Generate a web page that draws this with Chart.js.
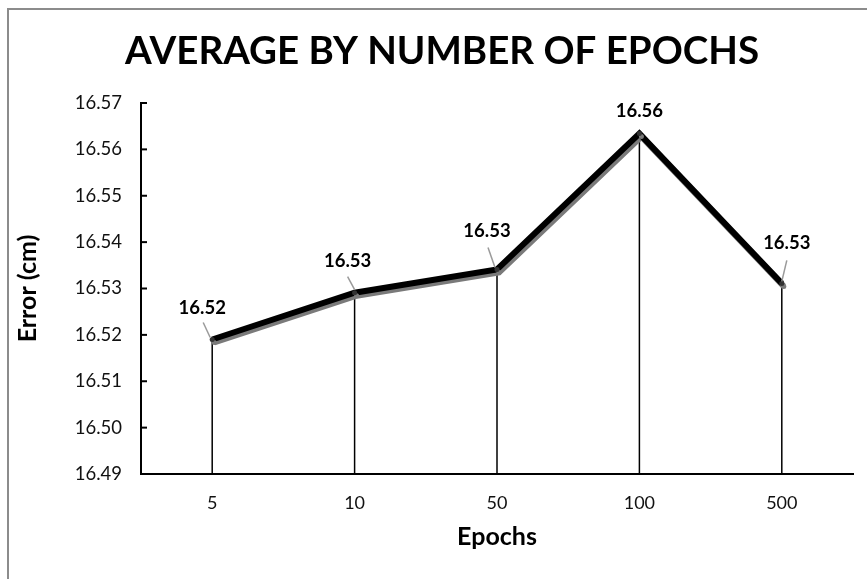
<!DOCTYPE html>
<html>
<head>
<meta charset="utf-8">
<title>Average by number of epochs</title>
<script src="https://cdn.jsdelivr.net/npm/chart.js@4.4.0/dist/chart.umd.min.js"></script>
<style>
  html, body { margin: 0; padding: 0; background: #fff; overflow: hidden; }
  /* outer chart frame, only top and left edges fall inside the window */
  #frame {
    position: absolute; left: 7px; top: 8px; width: 920px; height: 620px;
    border-left: 2px solid #8c8c8c; border-top: 2px solid #8c8c8c;
  }
  #wrap { position: relative; width: 867px; height: 579px; }
</style>
</head>
<body>
<div id="frame"></div>
<div id="wrap"><canvas id="graficoEpocas"></canvas></div>
<script>
const epochs = ["5", "10", "50", "100", "500"];
const avgError = [16.519, 16.5291, 16.5341, 16.5634, 16.5311];
const yTicks = [16.49, 16.50, 16.51, 16.52, 16.53, 16.54, 16.55, 16.56, 16.57];

const chartTitle = "AVERAGE BY NUMBER OF EPOCHS";

// where each value label sits relative to its point, plus the leader line
const labelPos = [
  { dx: -10, dy: -31, lead: [-9, -17, -2, -2] },
  { dx: -7,  dy: -32, lead: [-7, -16, 0, -3] },
  { dx: -10, dy: -38, lead: [-9, -22, -2, -2] },
  { dx: 0,   dy: -23, lead: null },
  { dx: 5,   dy: -40, lead: [5, -23, 0, -2] }
];

Chart.defaults.font.family = "Lato, 'Open Sans', sans-serif";
Chart.defaults.color = "#111";

const topTitle = {
  id: "topTitle",
  afterDraw(chart, args, opts) {
    const ctx = chart.ctx;
    ctx.save();
    ctx.font = "bold 38.5px Lato, 'Open Sans', sans-serif";
    ctx.fillStyle = "#000";
    ctx.textAlign = "center";
    ctx.textBaseline = "middle";
    ctx.fillText(opts.text, opts.x, opts.y);
    ctx.restore();
  }
};

// vertical lines from every point down to the category axis
const dropLines = {
  id: "dropLines",
  beforeDatasetsDraw(chart) {
    const ctx = chart.ctx;
    const bottom = chart.scales.y.getPixelForValue(yTicks[0]);
    ctx.save();
    ctx.strokeStyle = "#000";
    ctx.lineWidth = 1.5;
    chart.getDatasetMeta(0).data.forEach(pt => {
      ctx.beginPath();
      ctx.moveTo(pt.x, pt.y);
      ctx.lineTo(pt.x, bottom);
      ctx.stroke();
    });
    ctx.restore();
  }
};

// grey offset shadow under the thick line
const lineShadow = {
  id: "lineShadow",
  beforeDatasetDraw(chart) {
    const ctx = chart.ctx;
    ctx.save();
    ctx.shadowColor = "#7a7a7a";
    ctx.shadowOffsetX = 2;
    ctx.shadowOffsetY = 3;
    ctx.shadowBlur = 0;
  },
  afterDatasetDraw(chart) {
    chart.ctx.restore();
  }
};

// y tick marks point into the plot area
const innerTicks = {
  id: "innerTicks",
  afterDraw(chart) {
    const ctx = chart.ctx;
    const y = chart.scales.y;
    const left = chart.chartArea.left;
    ctx.save();
    ctx.strokeStyle = "#000";
    ctx.lineWidth = 2;
    y.ticks.forEach(t => {
      const py = y.getPixelForValue(t.value);
      ctx.beginPath();
      ctx.moveTo(left, py);
      ctx.lineTo(left + 6, py);
      ctx.stroke();
    });
    ctx.restore();
  }
};

const valueLabels = {
  id: "valueLabels",
  afterDatasetsDraw(chart) {
    const ctx = chart.ctx;
    const meta = chart.getDatasetMeta(0);
    ctx.save();
    meta.data.forEach((pt, i) => {
      const p = labelPos[i];
      if (p.lead) {
        ctx.strokeStyle = "#9a9a9a";
        ctx.lineWidth = 1.5;
        ctx.beginPath();
        ctx.moveTo(pt.x + p.lead[0], pt.y + p.lead[1]);
        ctx.lineTo(pt.x + p.lead[2], pt.y + p.lead[3]);
        ctx.stroke();
      }
      ctx.font = "bold 18.5px Lato, 'Open Sans', sans-serif";
      ctx.fillStyle = "#000";
      ctx.textAlign = "center";
      ctx.textBaseline = "middle";
      ctx.fillText(avgError[i].toFixed(2), pt.x + p.dx, pt.y + p.dy);
    });
    ctx.restore();
  }
};

const ctx = document.getElementById("graficoEpocas").getContext("2d");
new Chart(ctx, {
  type: "line",
  data: {
    labels: epochs,
    datasets: [{
      data: avgError,
      borderColor: "#000",
      borderWidth: 6,
      borderJoinStyle: "miter",
      tension: 0,
      pointRadius: 2.5,
      pointBackgroundColor: "#333",
      pointBorderWidth: 0
    }]
  },
  options: {
    responsive: true,
    maintainAspectRatio: false,
    animation: false,
    layout: { padding: { top: 103, right: 14, bottom: 0, left: 0 } },
    plugins: {
      legend: { display: false },
      tooltip: { enabled: false },
      topTitle: { text: chartTitle, x: 442, y: 52 }
    },
    scales: {
      x: {
        offset: true,
        grid: { display: false, drawTicks: false },
        border: { display: true, color: "#000", width: 2 },
        ticks: { padding: 18, font: { size: 18 }, color: "#111" },
        title: {
          display: true,
          text: "Epochs",
          font: { size: 25, weight: "bold" },
          color: "#000",
          padding: { top: 6, bottom: 27 }
        },
        afterFit(scale) { scale.height = 105; }
      },
      y: {
        min: yTicks[0],
        max: yTicks[yTicks.length - 1],
        grid: { display: false, drawTicks: false },
        border: { display: true, color: "#000", width: 2 },
        afterBuildTicks(scale) {
          scale.ticks = yTicks.map(v => ({ value: v }));
        },
        ticks: {
          padding: 19,
          font: { size: 18.5 },
          color: "#111",
          callback: v => Number(v).toFixed(2)
        },
        title: {
          display: true,
          text: "Error (cm)",
          font: { size: 25, weight: "bold" },
          color: "#000",
          padding: { top: 13, bottom: 0 }
        },
        afterFit(scale) { scale.width = 141; }
      }
    }
  },
  plugins: [topTitle, dropLines, lineShadow, innerTicks, valueLabels]
});
</script>
</body>
</html>
